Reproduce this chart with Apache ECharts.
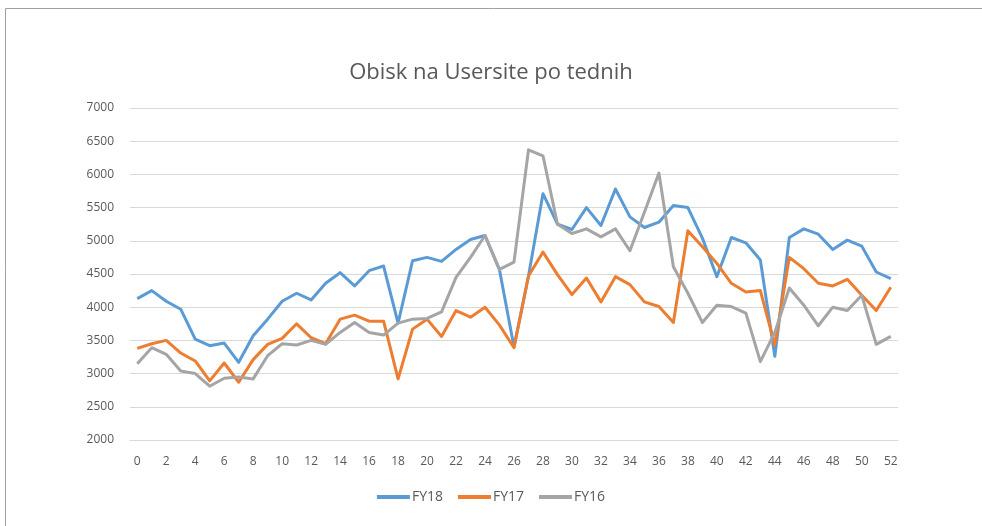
<!DOCTYPE html>
<html>
<head>
<meta charset="utf-8">
<script src="https://cdn.jsdelivr.net/npm/echarts@6/dist/echarts.min.js"></script>
<style>
  html, body { margin: 0; padding: 0; background: #fff; }
  #chart { width: 982px; height: 526px; }
</style>
</head>
<body>
<div id="chart"></div>
<script>
// weeks 0..52
var weeks = [];
for (var i = 0; i <= 52; i++) weeks.push(String(i));

var fy18 = [4130, 4250, 4090, 3970, 3520, 3420, 3460, 3170, 3570, 3820,
            4090, 4210, 4110, 4360, 4520, 4320, 4550, 4620, 3760, 4700,
            4750, 4690, 4870, 5020, 5080, 4560, 3400, 4470, 5710, 5250,
            5170, 5500, 5230, 5780, 5360, 5200, 5280, 5530, 5500, 5040,
            4460, 5050, 4970, 4710, 3260, 5050, 5180, 5100, 4870, 5010,
            4920, 4530, 4430];

var fy17 = [3380, 3450, 3500, 3310, 3190, 2890, 3160, 2870, 3210, 3440,
            3530, 3750, 3540, 3450, 3820, 3880, 3790, 3790, 2920, 3670,
            3820, 3560, 3950, 3850, 4000, 3730, 3390, 4470, 4830, 4490,
            4190, 4440, 4080, 4460, 4340, 4080, 4010, 3770, 5150, 4910,
            4660, 4360, 4230, 4250, 3430, 4750, 4580, 4360, 4320, 4420,
            4180, 3950, 4300];

var fy16 = [3150, 3390, 3290, 3040, 3000, 2810, 2930, 2950, 2920, 3270,
            3450, 3430, 3500, 3440, 3620, 3770, 3620, 3580, 3760, 3820,
            3830, 3930, 4450, 4750, 5080, 4570, 4680, 6370, 6280, 5250,
            5110, 5180, 5060, 5180, 4850, 5430, 6020, 4610, 4210, 3770,
            4030, 4010, 3910, 3180, 3620, 4290, 4030, 3720, 4000, 3950,
            4180, 3440, 3560];

var textColor = '#595959';
var gridColor = '#d9d9d9';

function line(name, data, color) {
  return {
    name: name,
    type: 'line',
    data: data,
    symbol: 'none',
    lineStyle: { color: color, width: 3, join: 'round' },
    itemStyle: { color: color }
  };
}

var chart = echarts.init(document.getElementById('chart'));
chart.setOption({
  animation: false,
  textStyle: { fontFamily: 'Open Sans' },
  title: {
    text: 'Obisk na Usersite po tednih',
    left: 'center',
    top: 57,
    textStyle: { color: textColor, fontSize: 22, fontWeight: 'normal', fontFamily: 'Open Sans' }
  },
  graphic: [
    { type: 'line', shape: { x1: 5.5, y1: 8.5, x2: 982, y2: 8.5 }, style: { stroke: '#a0a0a0', lineWidth: 1 } },
    { type: 'line', shape: { x1: 5.5, y1: 8.5, x2: 5.5, y2: 526 }, style: { stroke: '#a0a0a0', lineWidth: 1 } }
  ],
  legend: {
    bottom: 17,
    left: 'center',
    icon: 'rect',
    itemWidth: 33,
    itemHeight: 4,
    itemGap: 15,
    textStyle: { color: textColor, fontSize: 14, padding: [0, 0, 0, -3] },
    data: ['FY18', 'FY17', 'FY16']
  },
  grid: { left: 130, right: 84, top: 108, bottom: 86 },
  xAxis: {
    type: 'category',
    data: weeks,
    boundaryGap: true,
    axisLine: { show: true, lineStyle: { color: gridColor } },
    axisTick: { show: false },
    axisLabel: { interval: 1, color: textColor, fontSize: 12, margin: 16 },
    splitLine: { show: false }
  },
  yAxis: {
    type: 'value',
    min: 2000,
    max: 7000,
    interval: 500,
    axisLine: { show: false },
    axisTick: { show: false },
    axisLabel: { color: textColor, fontSize: 12, margin: 16, formatter: function (v) { return String(v); } },
    splitLine: { lineStyle: { color: gridColor, width: 1 } }
  },
  series: [
    line('FY18', fy18, '#5b9bd5'),
    line('FY17', fy17, '#ed7d31'),
    line('FY16', fy16, '#a5a5a5')
  ]
});
</script>
</body>
</html>
